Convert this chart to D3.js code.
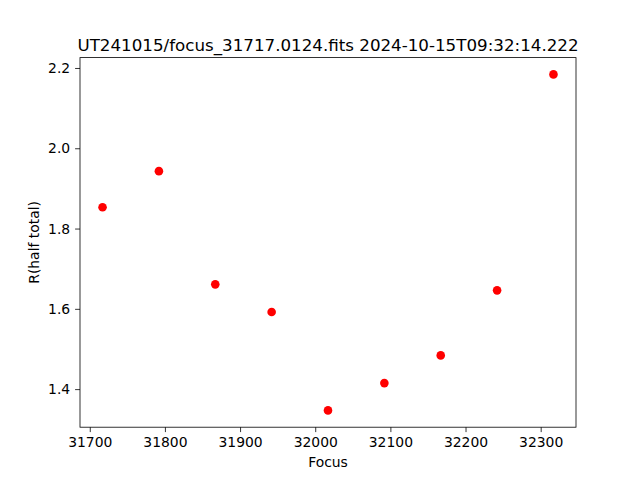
<!DOCTYPE html>
<html><head><meta charset="utf-8">
<script src="https://cdn.jsdelivr.net/npm/d3@7"></script>
<style>body{margin:0;background:#fff}svg{display:block;font-family:"DejaVu Sans",sans-serif}</style>
</head><body>
<script>
const focus = [31717, 31792, 31867, 31942, 32017, 32092, 32167, 32242, 32317];
const rHalf = [1.853, 1.943, 1.661, 1.592, 1.347, 1.415, 1.484, 1.646, 2.184];
const xTicks = [31700, 31800, 31900, 32000, 32100, 32200, 32300];
const yTicks = [1.4, 1.6, 1.8, 2.0, 2.2];
const title = "UT241015/focus_31717.0124.fits 2024-10-15T09:32:14.222";

const W = 640, H = 480;
const L = 80, R = 576, T = 57.6, B = 427.2;
const svg = d3.select("body").append("svg").attr("width", W).attr("height", H);

function pad(ext){ const d = (ext[1]-ext[0])*0.05; return [ext[0]-d, ext[1]+d]; }
const x = d3.scaleLinear().domain(pad(d3.extent(focus))).range([L, R]);
const y = d3.scaleLinear().domain(pad(d3.extent(rHalf))).range([B, T]);

const xAxis = svg.append("g").attr("transform", `translate(0,${B})`)
  .call(d3.axisBottom(x).tickValues(xTicks).tickFormat(d3.format("d")).tickSize(4.9).tickPadding(4.9));
const yAxis = svg.append("g").attr("transform", `translate(${L},0)`)
  .call(d3.axisLeft(y).tickValues(yTicks).tickFormat(d3.format(".1f")).tickSize(4.9).tickPadding(4.9));
[xAxis, yAxis].forEach(g => {
  g.select(".domain").remove();
  g.selectAll("line").attr("stroke", "#000").attr("stroke-width", 0.8);
  g.selectAll("text").attr("font-family", "DejaVu Sans").attr("font-size", "13.9px").attr("fill", "#000");
});

svg.append("rect").attr("x", L).attr("y", T).attr("width", R-L).attr("height", B-T)
  .attr("fill", "none").attr("stroke", "#000").attr("stroke-width", 0.8);

svg.append("g").selectAll("circle").data(focus).join("circle")
  .attr("cx", (d,i) => x(d)).attr("cy", (d,i) => y(rHalf[i])).attr("r", 4.3).attr("fill", "#ff0000");

svg.append("text").attr("x", (L+R)/2).attr("y", 50.5).attr("text-anchor", "middle")
  .attr("font-size", "16.7px").attr("fill", "#000").text(title);
svg.append("text").attr("x", (L+R)/2).attr("y", 467).attr("text-anchor", "middle")
  .attr("font-size", "13.9px").attr("fill", "#000").text("Focus");
svg.append("text").attr("transform", `translate(39,${(T+B)/2}) rotate(-90)`).attr("text-anchor", "middle")
  .attr("font-size", "13.9px").attr("fill", "#000").text("R(half total)");
</script>
</body></html>
